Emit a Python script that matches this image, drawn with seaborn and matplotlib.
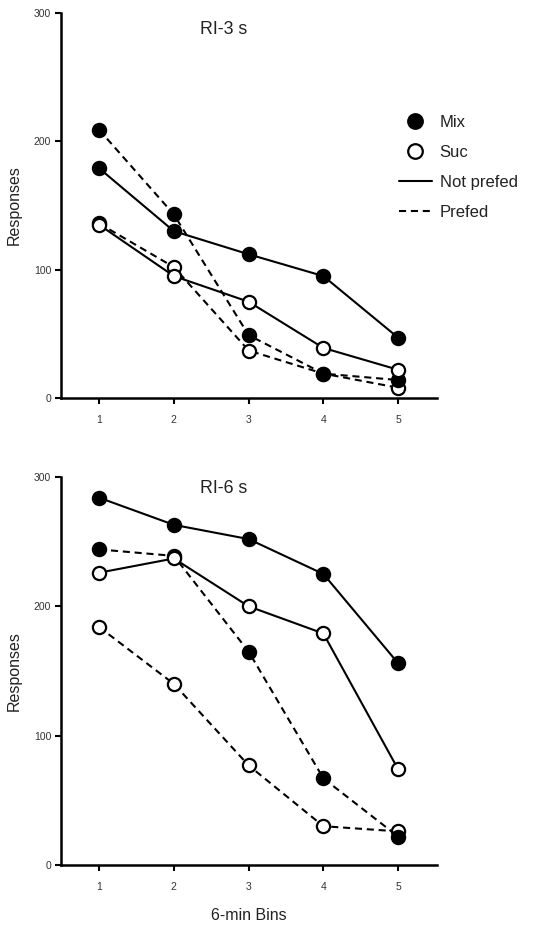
import matplotlib
matplotlib.use("Agg")
import matplotlib.pyplot as plt
from matplotlib.lines import Line2D
import seaborn as sns
import pandas as pd

sns.set_style("white")
plt.rcParams['font.family'] = ['Liberation Sans', 'DejaVu Sans']

bins = [1, 2, 3, 4, 5]

# RI-3 s
ri3_mix_not_prefed = [179, 130, 112, 95, 47]
ri3_mix_prefed = [209, 143, 49, 19, 14]
ri3_suc_not_prefed = [135, 95, 75, 39, 22]
ri3_suc_prefed = [136, 102, 37, 19, 8]

# RI-6 s
ri6_mix_not_prefed = [284, 263, 252, 225, 156]
ri6_mix_prefed = [244, 239, 165, 67, 22]
ri6_suc_not_prefed = [226, 237, 200, 179, 74]
ri6_suc_prefed = [184, 140, 77, 30, 26]

panel_titles = ["RI-3 s", "RI-6 s"]
y_ticks = [0, 100, 200, 300]


def make_df(mnp, mp, snp, sp):
    rows = []
    for name, vals in [("Mix|Not prefed", mnp), ("Mix|Prefed", mp),
                       ("Suc|Not prefed", snp), ("Suc|Prefed", sp)]:
        for b, v in zip(bins, vals):
            rows.append({"bin": b, "resp": v, "series": name})
    return pd.DataFrame(rows)


dfs = [make_df(ri3_mix_not_prefed, ri3_mix_prefed, ri3_suc_not_prefed, ri3_suc_prefed),
       make_df(ri6_mix_not_prefed, ri6_mix_prefed, ri6_suc_not_prefed, ri6_suc_prefed)]

fig = plt.figure(figsize=(5.39, 9.30), dpi=100)
W, H = 539, 930
ax_boxes = [(61, 13, 437, 398), (61, 477, 437, 865)]
axes = []
for (l, t, r, b) in ax_boxes:
    axes.append(fig.add_axes([l / W, 1 - b / H, (r - l) / W, (b - t) / H]))

title_pos = [(2.66, 287), (2.66, 291)]
dash = (0, (3.4, 2.3))

for i, ax in enumerate(axes):
    df = dfs[i]
    for name in ["Suc|Prefed", "Mix|Prefed", "Suc|Not prefed", "Mix|Not prefed"]:
        sub = df[df["series"] == name]
        filled = name.startswith("Mix")
        dashed = name.endswith("|Prefed")
        sns.lineplot(data=sub, x="bin", y="resp", ax=ax, color="black",
                     linewidth=1.5, linestyle=dash if dashed else "-",
                     marker="o", markersize=9.5, markeredgewidth=1.6,
                     markeredgecolor="black",
                     markerfacecolor="black" if filled else "white",
                     legend=False, zorder=3)
    ax.set_xlim(0.49, 5.52)
    ax.set_ylim(0, 300)
    ax.set_xticks(bins)
    ax.set_yticks(y_ticks)
    ax.tick_params(axis="both", labelsize=7.5, length=4,
                   width=1.5, direction="out", left=True, bottom=True)
    ax.tick_params(axis="x", colors="black", labelcolor="#333333", pad=8)
    ax.tick_params(axis="y", colors="black", labelcolor="#333333", pad=3)
    for s in ["top", "right"]:
        ax.spines[s].set_visible(False)
    for s in ["left", "bottom"]:
        ax.spines[s].set_linewidth(1.8)
        ax.spines[s].set_color("black")
    ax.set_ylabel("Responses", fontsize=11.5, labelpad=9, color="#222222")
    ax.set_xlabel("")
    ax.text(title_pos[i][0], title_pos[i][1], panel_titles[i], fontsize=12.8,
            ha="center", va="center", color="#222222")

axes[1].set_xlabel("6-min Bins", fontsize=11.5, labelpad=12, color="#222222")

handles = [
    Line2D([], [], color="black", marker="o", linestyle="none", markersize=10.5,
           markerfacecolor="black", markeredgewidth=1.6),
    Line2D([], [], color="black", marker="o", linestyle="none", markersize=10.5,
           markerfacecolor="white", markeredgewidth=1.6),
    Line2D([], [], color="black", linestyle="-", linewidth=1.5),
    Line2D([], [], color="black", linestyle=dash, linewidth=1.5),
]
labels = ["Mix", "Suc", "Not prefed", "Prefed"]
leg = fig.legend(handles, labels, loc="upper left",
                 bbox_to_anchor=(392 / W, 1 - 108 / H), frameon=False,
                 fontsize=12, handlelength=2.0, handletextpad=0.45,
                 labelspacing=0.9, borderaxespad=0)
for t in leg.get_texts():
    t.set_color("#222222")

fig.savefig("out.png", dpi=100)
